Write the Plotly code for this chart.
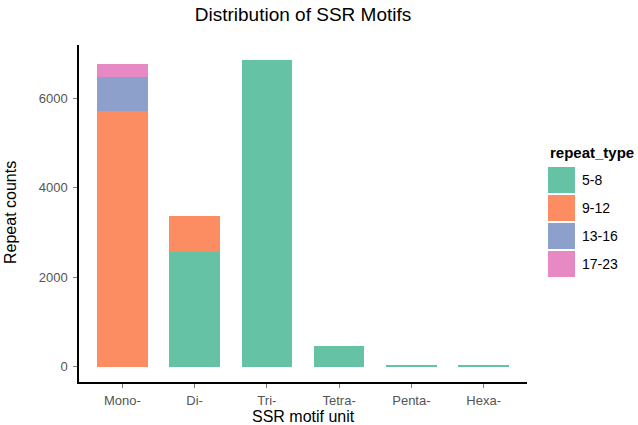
import plotly.graph_objects as go

categories = ["Mono-", "Di-", "Tri-", "Tetra-", "Penta-", "Hexa-"]
repeat_types = ["5-8", "9-12", "13-16", "17-23"]
counts_5_8 = [None, 2571, 6855, 463, 45, 25]
counts_9_12 = [5727, 798, None, None, None, None]
counts_13_16 = [761, None, None, None, None, None]
counts_17_23 = [284, None, None, None, None, None]
colors = ["#66c2a5", "#fc8d62", "#8da0cb", "#e78ac3"]
y_ticks = [0, 2000, 4000, 6000]

series = [counts_5_8, counts_9_12, counts_13_16, counts_17_23]

fig = go.Figure()
for name, vals, col in zip(repeat_types, series, colors):
    fig.add_trace(go.Bar(x=categories, y=vals, name=name, width=0.7,
                         marker=dict(color=col, line=dict(width=0)),
                         showlegend=False))

font_family = "Liberation Sans, Arial, sans-serif"

W, H = 638, 425
L, R, T, B = 79, 527, 45, 382
tick_col = "#555555"

fig.update_layout(
    width=W, height=H,
    barmode="stack",
    plot_bgcolor="white", paper_bgcolor="white",
    margin=dict(l=L, r=W - R, t=T, b=H - B, autoexpand=False),
    font=dict(family=font_family, color="black"),
    title=dict(text="Distribution of SSR Motifs", x=(L + R) / 2 / W, xanchor="center",
               xref="container", yref="container",
               y=1 - 14.5 / H, yanchor="middle", font=dict(size=19, color="black")),
    xaxis=dict(range=[-0.6, 5.6], showline=True, linecolor="black", linewidth=1.5,
               ticks="outside", ticklen=4, tickcolor="#7f7f7f", tickwidth=1,
               ticklabelstandoff=2,
               tickfont=dict(size=13, color=tick_col), showgrid=False, zeroline=False,
               automargin=False),
    yaxis=dict(range=[-343, 7198], showline=True, linecolor="black", linewidth=1.5,
               ticks="outside", ticklen=4, tickcolor="#7f7f7f", tickwidth=1,
               ticklabelstandoff=3,
               tickvals=y_ticks, tickfont=dict(size=13, color=tick_col),
               showgrid=False, zeroline=False, automargin=False),
)

def px(x): return (x - L) / (R - L)
def py(y): return (B - y) / (B - T)

# axis titles
fig.add_annotation(x=px((L + R) / 2), y=py(416.5), xref="paper", yref="paper",
                   text="SSR motif unit", showarrow=False, xanchor="center", yanchor="middle",
                   font=dict(size=16, color="black"))
fig.add_annotation(x=px(10), y=py(213), xref="paper", yref="paper",
                   text="Repeat counts", showarrow=False, textangle=-90,
                   xanchor="center", yanchor="middle",
                   font=dict(size=16, color="black"))

# custom legend (ggplot style)
fig.add_annotation(x=px(548), y=py(152), xref="paper", yref="paper", text="<b>repeat_type</b>",
                   showarrow=False, xanchor="left", yanchor="middle",
                   font=dict(size=15, color="black"))
for i, (name, col) in enumerate(zip(repeat_types, colors)):
    top = 167 + i * 28
    fig.add_shape(type="rect", xref="paper", yref="paper",
                  x0=px(548), x1=px(575), y0=py(top), y1=py(top + 26),
                  fillcolor=col, line=dict(width=0))
    fig.add_annotation(x=px(580), y=py(top + 13), xref="paper", yref="paper", text=name,
                       showarrow=False, xanchor="left", yanchor="middle",
                       font=dict(size=14, color="black"))

fig.write_html("out.html", config={"displayModeBar": False},
               post_script="document.body.style.margin='0';")
